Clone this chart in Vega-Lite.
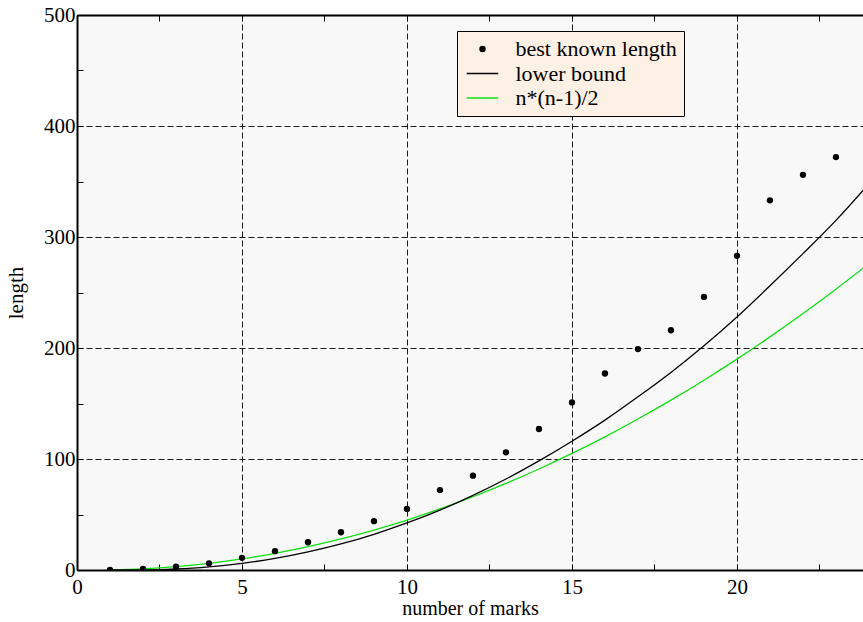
{
  "$schema": "https://vega.github.io/schema/vega-lite/v6.json",
  "width": 786,
  "height": 555,
  "autosize": "none",
  "padding": {"left": 77, "top": 15, "right": 0, "bottom": 52},
  "background": "white",
  "config": {
    "view": {"stroke": null, "fill": "#f8f8f8"},
    "font": "Liberation Serif"
  },
  "datasets": {
    "pts": [
      {"n": 1, "len": 0, "series": "best known length"},
      {"n": 2, "len": 1, "series": "best known length"},
      {"n": 3, "len": 3, "series": "best known length"},
      {"n": 4, "len": 6, "series": "best known length"},
      {"n": 5, "len": 11, "series": "best known length"},
      {"n": 6, "len": 17, "series": "best known length"},
      {"n": 7, "len": 25, "series": "best known length"},
      {"n": 8, "len": 34, "series": "best known length"},
      {"n": 9, "len": 44, "series": "best known length"},
      {"n": 10, "len": 55, "series": "best known length"},
      {"n": 11, "len": 72, "series": "best known length"},
      {"n": 12, "len": 85, "series": "best known length"},
      {"n": 13, "len": 106, "series": "best known length"},
      {"n": 14, "len": 127, "series": "best known length"},
      {"n": 15, "len": 151, "series": "best known length"},
      {"n": 16, "len": 177, "series": "best known length"},
      {"n": 17, "len": 199, "series": "best known length"},
      {"n": 18, "len": 216, "series": "best known length"},
      {"n": 19, "len": 246, "series": "best known length"},
      {"n": 20, "len": 283, "series": "best known length"},
      {"n": 21, "len": 333, "series": "best known length"},
      {"n": 22, "len": 356, "series": "best known length"},
      {"n": 23, "len": 372, "series": "best known length"}
    ],
    "lb": [
      {"n": 1, "len": 0, "series": "lower bound"},
      {"n": 2, "len": 0, "series": "lower bound"},
      {"n": 2.5, "len": 0.3, "series": "lower bound"},
      {"n": 3, "len": 0.9, "series": "lower bound"},
      {"n": 3.5, "len": 1.7, "series": "lower bound"},
      {"n": 4, "len": 2.8, "series": "lower bound"},
      {"n": 5, "len": 6, "series": "lower bound"},
      {"n": 6, "len": 10.4, "series": "lower bound"},
      {"n": 7, "len": 16.3, "series": "lower bound"},
      {"n": 8, "len": 23.5, "series": "lower bound"},
      {"n": 9, "len": 32.2, "series": "lower bound"},
      {"n": 10, "len": 42.4, "series": "lower bound"},
      {"n": 11, "len": 54, "series": "lower bound"},
      {"n": 12, "len": 67.3, "series": "lower bound"},
      {"n": 13, "len": 82, "series": "lower bound"},
      {"n": 14, "len": 98.3, "series": "lower bound"},
      {"n": 15, "len": 116, "series": "lower bound"},
      {"n": 16, "len": 135, "series": "lower bound"},
      {"n": 17, "len": 156, "series": "lower bound"},
      {"n": 18, "len": 178, "series": "lower bound"},
      {"n": 19, "len": 202, "series": "lower bound"},
      {"n": 20, "len": 228, "series": "lower bound"},
      {"n": 21, "len": 256, "series": "lower bound"},
      {"n": 22, "len": 285, "series": "lower bound"},
      {"n": 23, "len": 315, "series": "lower bound"},
      {"n": 24, "len": 348, "series": "lower bound"}
    ],
    "tri": [
      {"n": 1, "len": 0, "series": "n*(n-1)/2"},
      {"n": 2, "len": 1, "series": "n*(n-1)/2"},
      {"n": 3, "len": 3, "series": "n*(n-1)/2"},
      {"n": 4, "len": 6, "series": "n*(n-1)/2"},
      {"n": 5, "len": 10, "series": "n*(n-1)/2"},
      {"n": 6, "len": 15, "series": "n*(n-1)/2"},
      {"n": 7, "len": 21, "series": "n*(n-1)/2"},
      {"n": 8, "len": 28, "series": "n*(n-1)/2"},
      {"n": 9, "len": 36, "series": "n*(n-1)/2"},
      {"n": 10, "len": 45, "series": "n*(n-1)/2"},
      {"n": 11, "len": 55, "series": "n*(n-1)/2"},
      {"n": 12, "len": 66, "series": "n*(n-1)/2"},
      {"n": 13, "len": 78, "series": "n*(n-1)/2"},
      {"n": 14, "len": 91, "series": "n*(n-1)/2"},
      {"n": 15, "len": 105, "series": "n*(n-1)/2"},
      {"n": 16, "len": 120, "series": "n*(n-1)/2"},
      {"n": 17, "len": 136, "series": "n*(n-1)/2"},
      {"n": 18, "len": 153, "series": "n*(n-1)/2"},
      {"n": 19, "len": 171, "series": "n*(n-1)/2"},
      {"n": 20, "len": 190, "series": "n*(n-1)/2"},
      {"n": 21, "len": 210, "series": "n*(n-1)/2"},
      {"n": 22, "len": 231, "series": "n*(n-1)/2"},
      {"n": 23, "len": 253, "series": "n*(n-1)/2"},
      {"n": 24, "len": 276, "series": "n*(n-1)/2"}
    ]
  },
  "layer": [
    {
      "data": {"name": "tri"},
      "mark": {"type": "line", "strokeWidth": 1.3, "clip": true, "interpolate": "monotone"},
      "encoding": {
        "x": {
          "field": "n", "type": "quantitative",
          "scale": {"domain": [0, 23.82], "nice": false, "zero": false},
          "axis": {
            "orient": "bottom",
            "values": [0, 2.5, 5, 7.5, 10, 12.5, 15, 17.5, 20, 22.5],
            "labelExpr": "datum.value % 5 === 0 ? '' + datum.value : ''",
            "labelOverlap": false,
            "labelFlush": false,
            "labelFont": "Liberation Serif",
            "labelFontSize": 21,
            "labelColor": "black",
            "labelPadding": 12,
            "title": "number of marks",
            "titleFont": "Liberation Serif",
            "titleFontSize": 20,
            "titleFontWeight": "normal",
            "titleColor": "black",
            "titlePadding": 1,
            "domainColor": "black",
            "domainWidth": 2,
            "tickColor": "black",
            "tickSize": -6,
            "tickWidth": 1,
            "grid": true,
            "gridColor": "#1a1a1a",
            "gridDash": [6, 3],
            "gridWidth": 1,
            "gridOpacity": {"condition": {"test": "datum.value % 5 === 0", "value": 1}, "value": 0}
          }
        },
        "y": {
          "field": "len", "type": "quantitative",
          "scale": {"domain": [0, 500], "nice": false},
          "axis": {
            "orient": "left",
            "values": [0, 50, 100, 150, 200, 250, 300, 350, 400, 450, 500],
            "labelExpr": "datum.value % 100 === 0 ? '' + datum.value : ''",
            "labelOverlap": false,
            "labelFlush": false,
            "labelFont": "Liberation Serif",
            "labelFontSize": 21,
            "labelColor": "black",
            "labelPadding": 8,
            "title": "length",
            "titleFont": "Liberation Serif",
            "titleFontSize": 21,
            "titleFontWeight": "normal",
            "titleColor": "black",
            "titlePadding": 17,
            "domainColor": "black",
            "domainWidth": 2,
            "tickColor": "black",
            "tickSize": -6,
            "tickWidth": 1,
            "grid": true,
            "gridColor": "#1a1a1a",
            "gridDash": [6, 3],
            "gridWidth": 1,
            "gridOpacity": {"condition": {"test": "datum.value % 100 === 0", "value": 1}, "value": 0}
          }
        },
        "color": {
          "field": "series", "type": "nominal",
          "scale": {"domain": ["best known length", "lower bound", "n*(n-1)/2"], "range": ["black", "black", "#10e010"]},
          "legend": {
            "orient": "none",
            "legendX": 380,
            "legendY": 16,
            "title": null,
            "fillColor": "#fdf0e5",
            "strokeColor": "black",
            "padding": 7,
            "symbolSize": 100,
            "symbolOffset": 7.5,
            "symbolStrokeWidth": 1.3,
            "labelFont": "Liberation Serif",
            "labelFontSize": 22,
            "labelColor": "black",
            "labelOffset": 22,
            "rowPadding": 2.5,
            "labelLimit": 300,
            "encode": {
              "symbols": {
                "update": {
                  "shape": {"signal": "datum.value === 'best known length' ? 'circle' : 'M-3.16,0H3.16'"},
                  "size": {"signal": "datum.value === 'best known length' ? 26 : 100"},
                  "fill": {"signal": "datum.value === 'best known length' ? 'black' : 'transparent'"},
                  "stroke": {"signal": "datum.value === 'n*(n-1)/2' ? '#10e010' : (datum.value === 'best known length' ? 'transparent' : 'black')"},
                  "strokeWidth": {"value": 1.3},
                  "opacity": {"value": 1}
                }
              }
            }
          }
        }
      }
    },
    {
      "data": {"name": "lb"},
      "mark": {"type": "line", "strokeWidth": 1.3, "clip": true, "interpolate": "monotone"},
      "encoding": {
        "x": {
          "field": "n", "type": "quantitative",
          "axis": {
            "orient": "top",
            "values": [0, 2.5, 5, 7.5, 10, 12.5, 15, 17.5, 20, 22.5],
            "labels": false,
            "title": null,
            "grid": false,
            "domainColor": "black",
            "domainWidth": 2,
            "tickColor": "black",
            "tickSize": -6,
            "tickWidth": 1
          }
        },
        "y": {"field": "len", "type": "quantitative"},
        "color": {"field": "series", "type": "nominal"}
      }
    },
    {
      "data": {"name": "pts"},
      "mark": {"type": "point", "filled": true, "size": 40, "opacity": 1, "clip": true},
      "encoding": {
        "x": {"field": "n", "type": "quantitative", "axis": null},
        "y": {"field": "len", "type": "quantitative"},
        "color": {"field": "series", "type": "nominal"}
      }
    }
  ],
  "resolve": {"axis": {"x": "independent"}}
}
